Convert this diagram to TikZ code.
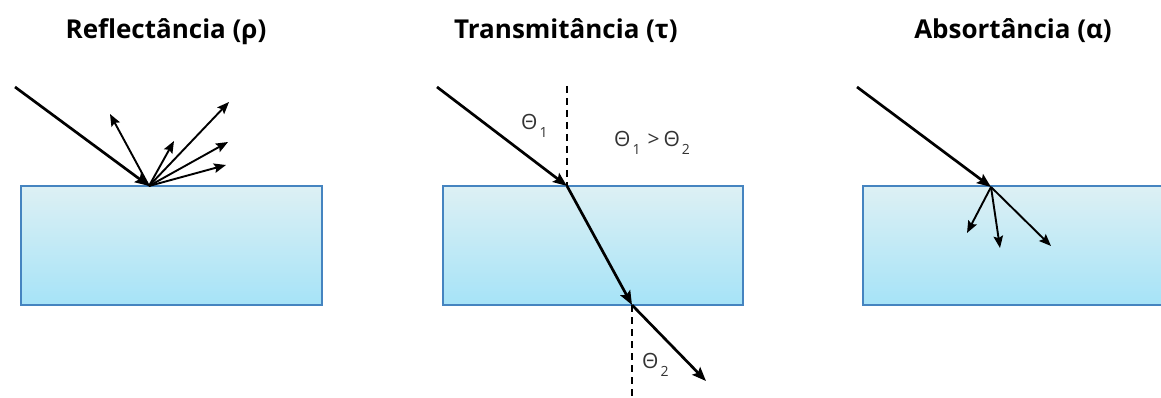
\documentclass[tikz,border=0pt]{standalone}
\usepackage{fontspec}
\setmainfont{Open Sans}
\usetikzlibrary{arrows.meta}
\definecolor{slabtop}{HTML}{DDF0F4}
\definecolor{slabbot}{HTML}{A6E3F7}
\definecolor{slabedge}{HTML}{4584C0}
\definecolor{labelgray}{HTML}{333333}
\newcommand{\lowsub}[1]{\kern2pt\raisebox{-8pt}{\fontsize{14}{14}\selectfont #1}}
\tikzset{
  slab/.style={draw=slabedge, line width=2pt, top color=slabtop, bottom color=slabbot,
    minimum width=#1, minimum height=118pt, inner sep=0pt, outer sep=0pt},
  ray/.style={line width=2.7pt, -{Stealth[length=14pt,width=11pt,inset=2.5pt]}},
  thinray/.style={line width=1.9pt, -{Stealth[length=12pt,width=9.5pt,inset=2pt]}},
  normalline/.style={line width=2.8pt, dash pattern=on 7pt off 5pt},
  title/.style={font=\bfseries\fontsize{26}{30}\selectfont, text=black, anchor=base, inner sep=0pt},
  anglelabel/.style={font=\fontsize{21}{25}\selectfont, text=labelgray, inner sep=0pt, anchor=base west}
}
\begin{document}
\begin{tikzpicture}[x=1pt,y=-1pt]
\useasboundingbox (0,0) rectangle (1161,398);
% titles
\node[title] (t1) at (166,39) {Reflectância (ρ)};
\node[title] (t2) at (566,39) {Transmitância (τ)};
\node[title] (t3) at (1013,39) {Absortância (α)};
% slabs
\node[slab=301pt] (b1) at (171.5,245.5) {};
\node[slab=300pt] (b2) at (592.5,245.5) {};
\node[slab=300pt] (b3) at (1013,245.5) {};

% ---- reflectance
\coordinate (r0) at (15,87);
\coordinate (rp) at (149,186);
\coordinate (ra) at (110,114);
\coordinate (rb) at (174,141);
\coordinate (rc) at (229,102);
\coordinate (rd) at (228,142);
\coordinate (re) at (226,165);
\draw[ray] (r0) -- (rp);
\foreach \e in {ra,rb,rc,rd,re} \draw[thinray] (rp) -- (\e);

% ---- transmittance
\coordinate (s0) at (437,87);
\coordinate (sp) at (567,186);
\coordinate (sq) at (632,305);
\coordinate (se) at (706,381);
\coordinate (n1) at (567,86);
\coordinate (n2) at (632,398);
\draw[normalline] (n1) -- (sp);
\draw[normalline] (sq) -- (n2);
\draw[ray] (s0) -- (sp);
\draw[ray] (sp) -- (sq);
\draw[ray] (sq) -- (se);
\node[anglelabel] (th1) at (521,130) {Θ\lowsub{1}};
\node[anglelabel] (thc) at (614,147) {Θ\lowsub{1}\kern7pt{}>\kern4pt{}Θ\lowsub{2}};
\node[anglelabel] (th2) at (642,368) {Θ\lowsub{2}};

% ---- absorptance
\coordinate (a0) at (857,87);
\coordinate (ap) at (991,187);
\coordinate (aa) at (967,233);
\coordinate (ab) at (1000,248);
\coordinate (ac) at (1051,246);
\draw[ray] (a0) -- (ap);
\foreach \e in {aa,ab,ac} \draw[thinray] (ap) -- (\e);
\end{tikzpicture}
\end{document}
